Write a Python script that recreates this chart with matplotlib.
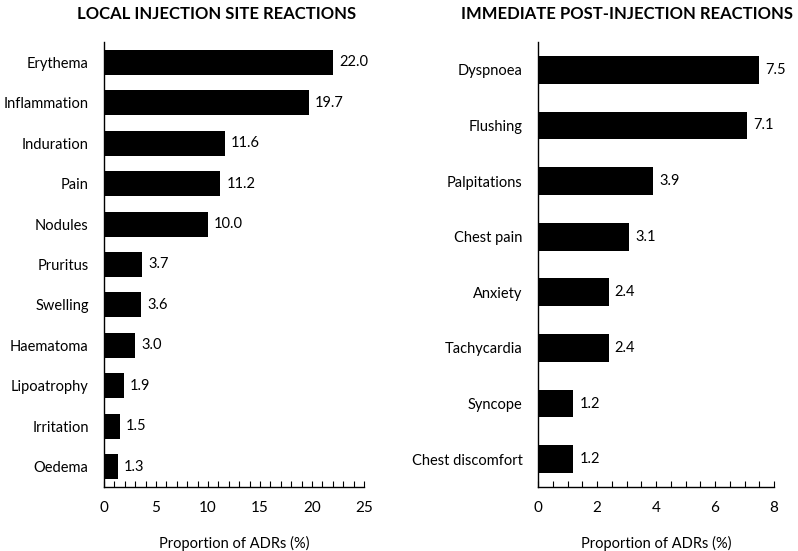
import matplotlib
matplotlib.use("Agg")
import matplotlib.pyplot as plt
from matplotlib.ticker import MultipleLocator

plt.rcParams['font.family'] = ['Lato', 'DejaVu Sans']

local_cats = ["Erythema", "Inflammation", "Induration", "Pain", "Nodules", "Pruritus",
              "Swelling", "Haematoma", "Lipoatrophy", "Irritation", "Oedema"]
local_vals = [22.0, 19.7, 11.6, 11.2, 10.0, 3.7, 3.6, 3.0, 1.9, 1.5, 1.3]

imm_cats = ["Dyspnoea", "Flushing", "Palpitations", "Chest pain", "Anxiety",
            "Tachycardia", "Syncope", "Chest discomfort"]
imm_vals = [7.5, 7.1, 3.9, 3.1, 2.4, 2.4, 1.2, 1.2]

W, H = 798, 551
fig = plt.figure(figsize=(W/100, H/100), dpi=100)

def axrect(x0, x1, y0, y1):
    return [x0/W, 1 - y1/H, (x1-x0)/W, (y1-y0)/H]

ax1 = fig.add_axes(axrect(104, 364, 42, 487))
ax2 = fig.add_axes(axrect(538, 774, 42, 487))

def draw(ax, cats, vals, xmax, major, minor, height, off):
    n = len(cats)
    ys = list(range(n))
    ax.barh(ys, vals, height=height, color='black')
    ax.set_ylim(n - 0.5, -0.5)
    ax.set_xlim(0, xmax)
    ax.set_yticks(ys)
    ax.set_yticklabels(cats, fontsize=10.5)
    for y, v in zip(ys, vals):
        ax.text(v + off, y, f"{v:.1f}", va='center', ha='left', fontsize=10.5)
    for s in ['top', 'right']:
        ax.spines[s].set_visible(False)
    for s in ['left', 'bottom']:
        ax.spines[s].set_linewidth(1.0)
    ax.xaxis.set_major_locator(MultipleLocator(major))
    ax.xaxis.set_minor_locator(MultipleLocator(minor))
    ax.tick_params(axis='x', which='both', direction='in', length=4, width=0.8,
                   labelsize=11, pad=10)
    ax.tick_params(axis='y', length=0, pad=11)
    ax.set_xlabel("Proportion of ADRs (%)", fontsize=10.5, labelpad=15)

draw(ax1, local_cats, local_vals, 25, 5, 1, 0.62, 0.6)
draw(ax2, imm_cats, imm_vals, 8, 2, 0.5, 0.5, 0.2)

fig.text(217/W, 1 - 14/H, "LOCAL INJECTION SITE REACTIONS", ha='center', va='center',
         fontsize=12, fontweight='bold')
fig.text(627/W, 1 - 14/H, "IMMEDIATE POST-INJECTION REACTIONS", ha='center', va='center',
         fontsize=12, fontweight='bold')

fig.savefig("out.png", dpi=100)
